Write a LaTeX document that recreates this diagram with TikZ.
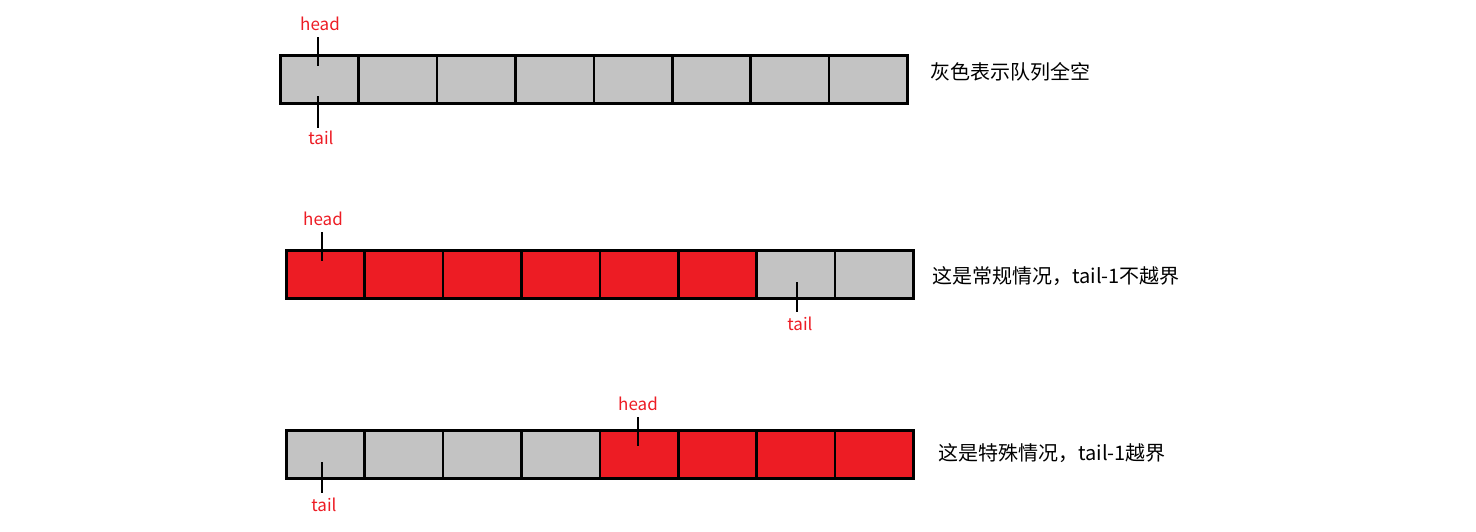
\documentclass[tikz,border=0pt]{standalone}
\usepackage{fontspec}
\setmainfont{Noto Sans CJK SC}
\definecolor{qred}{HTML}{ED1C24}
\definecolor{qgray}{HTML}{C3C3C3}
\begin{document}
\begin{tikzpicture}[x=1pt,y=-1pt,
  cell/.style={draw=black,line width=2.6pt,minimum width=78.4pt,minimum height=48pt,inner sep=0pt,anchor=north west},
  g/.style={cell,fill=qgray}, r/.style={cell,fill=qred},
  lab/.style={text=qred,font=\fontsize{17}{17}\selectfont,inner sep=0pt},
  ptr/.style={line width=2.2pt},
  desc/.style={font=\fontsize{20}{20}\selectfont,anchor=west,inner sep=0pt}]
\useasboundingbox (0,0) rectangle (1476,531);
% row 1
\foreach \i in {0,...,7} \node[g] (a\i) at (279+78.4*\i,54) {};
\node[lab] (h1) at (320,24) {head};
\coordinate (h1e) at (318,66);
\draw[ptr] (318,37) -- (h1e);
\node[lab] (t1) at (321,138) {tail};
\draw[ptr] (318,96) -- (318,128);
\node[desc] (d1) at (930,72) {灰色表示队列全空};
% row 2
\foreach \i in {0,...,5} \node[r] (b\i) at (285+78.4*\i,249) {};
\foreach \i in {6,7} \node[g] (b\i) at (285+78.4*\i,249) {};
\node[lab] (h2) at (323,219) {head};
\draw[ptr] (322,232) -- (322,261);
\node[lab] (t2) at (800,324) {tail};
\draw[ptr] (797,282) -- (797,312);
\node[desc] (d2) at (932,276) {这是常规情况，tail-1不越界};
% row 3
\foreach \i in {0,...,3} \node[g] (c\i) at (285+78.4*\i,429) {};
\foreach \i in {4,...,7} \node[r] (c\i) at (285+78.4*\i,429) {};
\node[lab] (h3) at (638,404) {head};
\draw[ptr] (638,417) -- (638,446);
\node[lab] (t3) at (324,505) {tail};
\draw[ptr] (322,462) -- (322,493);
\node[desc] (d3) at (938,453) {这是特殊情况，tail-1越界};
\end{tikzpicture}
\end{document}
